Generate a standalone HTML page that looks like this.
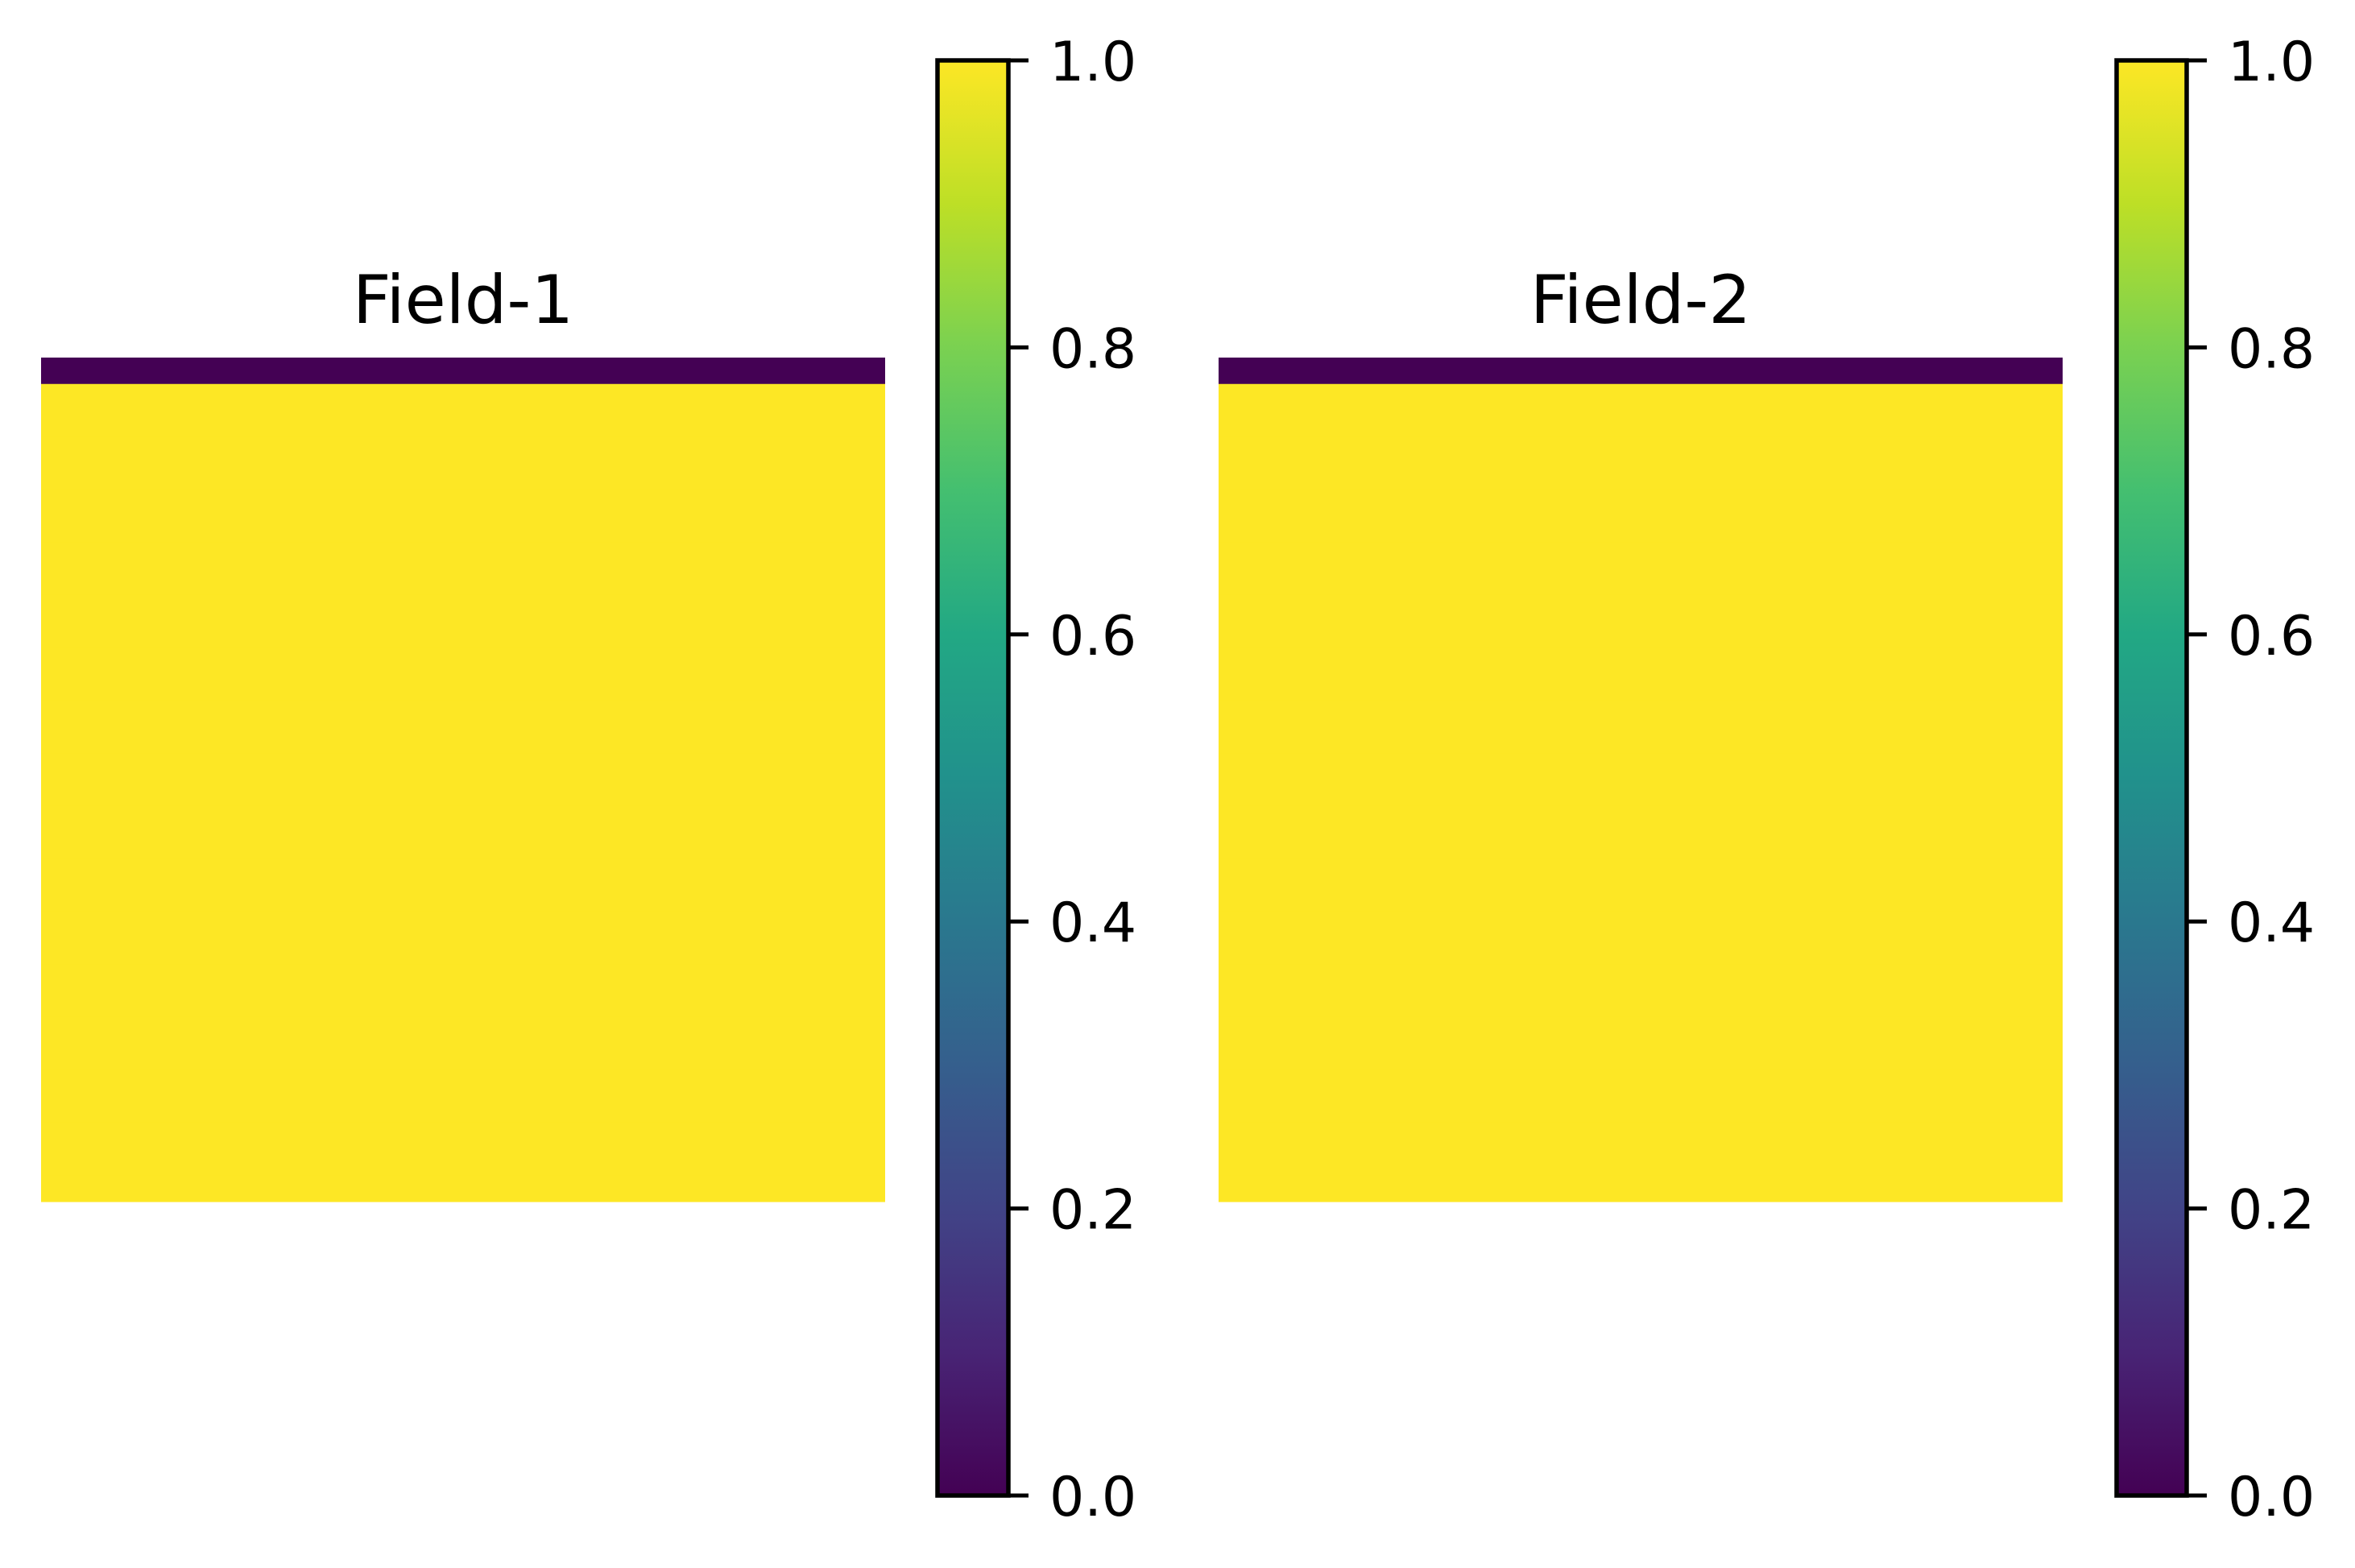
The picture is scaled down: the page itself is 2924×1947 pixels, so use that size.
<!DOCTYPE html>
<html><head><meta charset="utf-8"><style>
html,body{margin:0;padding:0;background:#fff;}
svg{display:block;font-family:"DejaVu Sans","Liberation Sans",sans-serif;}
</style></head><body>
<svg id="fig" width="2924" height="1947" viewBox="0 0 2924 1947">
<defs>
<linearGradient id="viridis" x1="0" y1="1" x2="0" y2="0">
<stop offset="0" stop-color="#440154"/><stop offset="0.1" stop-color="#482475"/>
<stop offset="0.2" stop-color="#414487"/><stop offset="0.3" stop-color="#355f8d"/>
<stop offset="0.4" stop-color="#2a788e"/><stop offset="0.5" stop-color="#21918c"/>
<stop offset="0.6" stop-color="#22a884"/><stop offset="0.7" stop-color="#44bf70"/>
<stop offset="0.8" stop-color="#7ad151"/><stop offset="0.9" stop-color="#bddf26"/>
<stop offset="1" stop-color="#fde725"/>
</linearGradient>
</defs>
</svg>
<script>
const fieldNames = ["Field-1", "Field-2"];
const nRows = 32, nCols = 32;
const field1ZeroRows = [0];
const field2ZeroRows = [0];
const cbTicks = [0.0, 0.2, 0.4, 0.6, 0.8, 1.0];
const cbTickLabels = ["0.0", "0.2", "0.4", "0.6", "0.8", "1.0"];

const NS = "http://www.w3.org/2000/svg";
const svg = document.getElementById('fig');
function mk(tag, attrs, parent) {
  const e = document.createElementNS(NS, tag);
  for (const k in attrs) e.setAttribute(k, attrs[k]);
  (parent || svg).appendChild(e);
  return e;
}
function viridis(v) { return v < 0.5 ? '#440154' : '#fde725'; }

const panels = [
  {x: 51, y: 444, size: 1048, cbL: 1161, cbR: 1255, zeros: field1ZeroRows},
  {x: 1513, y: 444, size: 1048, cbL: 2625, cbR: 2718, zeros: field2ZeroRows}
];
const cbTop = 75, cbBot = 1857;
function cbY(v) { return cbBot - (v - 0) / (1 - 0) * (cbBot - cbTop); }

panels.forEach((p, i) => {
  const g = mk('g', {});
  
  
  const rowH = p.size / nRows;
  for (let r = 0; r < nRows; r++) {
    const v = p.zeros.includes(r) ? 0 : 1;
    const rect = mk('rect', {x: p.x, y: p.y + r * rowH, width: p.size, height: rowH + 0.6, fill: viridis(v)}, g);
    
    
  }
  const t = mk('text', {x: p.x + p.size / 2, y: 401, 'font-size': 83, 'text-anchor': 'middle', fill: '#000'});
  t.textContent = fieldNames[i];
  
  

  const cg = mk('g', {});
  
  
  mk('rect', {x: p.cbL + 3, y: cbTop, width: p.cbR - p.cbL - 6, height: cbBot - cbTop, fill: 'url(#viridis)'}, cg);
  mk('rect', {x: p.cbL + 3, y: cbTop, width: p.cbR - p.cbL - 6, height: cbBot - cbTop, fill: 'none', stroke: '#000', 'stroke-width': 5.5}, cg);
  cbTicks.forEach((v, k) => {
    const y = cbY(v);
    const tk = mk('line', {x1: p.cbR - 3, x2: p.cbR + 22, y1: y, y2: y, stroke: '#000', 'stroke-width': 5}, cg);
    
    
    const lb = mk('text', {x: p.cbR + 48, y: y + 25, 'font-size': 68, fill: '#000'}, cg);
    lb.textContent = cbTickLabels[k];
    
    
  });
});
</script>
</body></html>
